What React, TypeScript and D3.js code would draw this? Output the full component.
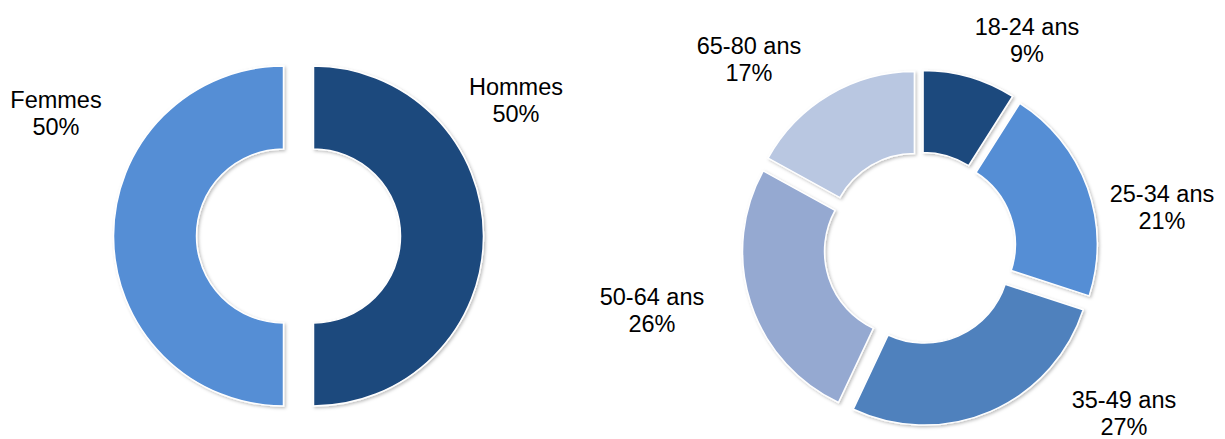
import React from "react";
import * as d3 from "d3";

// gender split
const genreLabels = ["Hommes", "Femmes"];
const genreValues = [50, 50];
const genreColors = ["#1F497D", "#558ED5"];

// age split
const ageLabels = ["18-24 ans", "25-34 ans", "35-49 ans", "50-64 ans", "65-80 ans"];
const ageValues = [9, 21, 27, 26, 17];
const ageColors = ["#1F497D", "#558ED5", "#4F81BD", "#95A9D1", "#B9C7E1"];

// label anchors (center x, first baseline)
const genreLabelPos = [[516, 95], [56, 108]];
const ageLabelPos = [[1027, 35], [1162, 202], [1124, 408], [652, 305], [749, 54]];

const W = 1225;
const H = 439;

interface DonutProps {
  labels: string[];
  values: number[];
  colors: string[];
  labelPos: number[][];
  cx: number;
  cy: number;
  outer: number;
  inner: number;
  explode: number;
}

const Donut = ({ labels, values, colors, labelPos, cx, cy, outer, inner, explode }: DonutProps) => {
  const pie = d3.pie<number>().sort(null).value(d => d);
  const arcs = pie(values);
  const arc = d3.arc<d3.PieArcDatum<number>>().innerRadius(inner).outerRadius(outer);
  return (
    <g>
      {arcs.map((a, i) => {
        const mid = (a.startAngle + a.endAngle) / 2;
        const dx = Math.sin(mid) * explode;
        const dy = -Math.cos(mid) * explode;
        return (
          <path
            key={i}
            d={arc(a) || ""}
            transform={`translate(${cx + dx},${cy + dy})`}
            fill={colors[i]}
            stroke="#fff"
            strokeWidth={1.5}
            filter="url(#shadow)"
          />
        );
      })}
      {labels.map((l, i) => (
        <text key={l} textAnchor="middle" fontSize={23.5} fill="#000">
          <tspan x={labelPos[i][0]} y={labelPos[i][1]}>{l}</tspan>
          <tspan x={labelPos[i][0]} y={labelPos[i][1] + 27}>{values[i]}%</tspan>
        </text>
      ))}
    </g>
  );
};

export default function App() {
  return (
    <svg
      width={W}
      height={H}
      style={{ position: "absolute", left: 0, top: 0, fontFamily: "'Liberation Sans', Arial, sans-serif" }}
    >
      <defs>
        <filter id="shadow" x="-20%" y="-20%" width="140%" height="140%">
          <feDropShadow dx="1.5" dy="1.5" stdDeviation="1.5" floodColor="#000" floodOpacity="0.25" />
        </filter>
      </defs>
      <rect width={W} height={H} fill="#fff" />
      <Donut
        labels={genreLabels}
        values={genreValues}
        colors={genreColors}
        labelPos={genreLabelPos}
        cx={298.5}
        cy={236}
        outer={170}
        inner={87}
        explode={15}
      />
      <Donut
        labels={ageLabels}
        values={ageValues}
        colors={ageColors}
        labelPos={ageLabelPos}
        cx={920}
        cy={248}
        outer={167}
        inner={85}
        explode={11}
      />
    </svg>
  );
}
